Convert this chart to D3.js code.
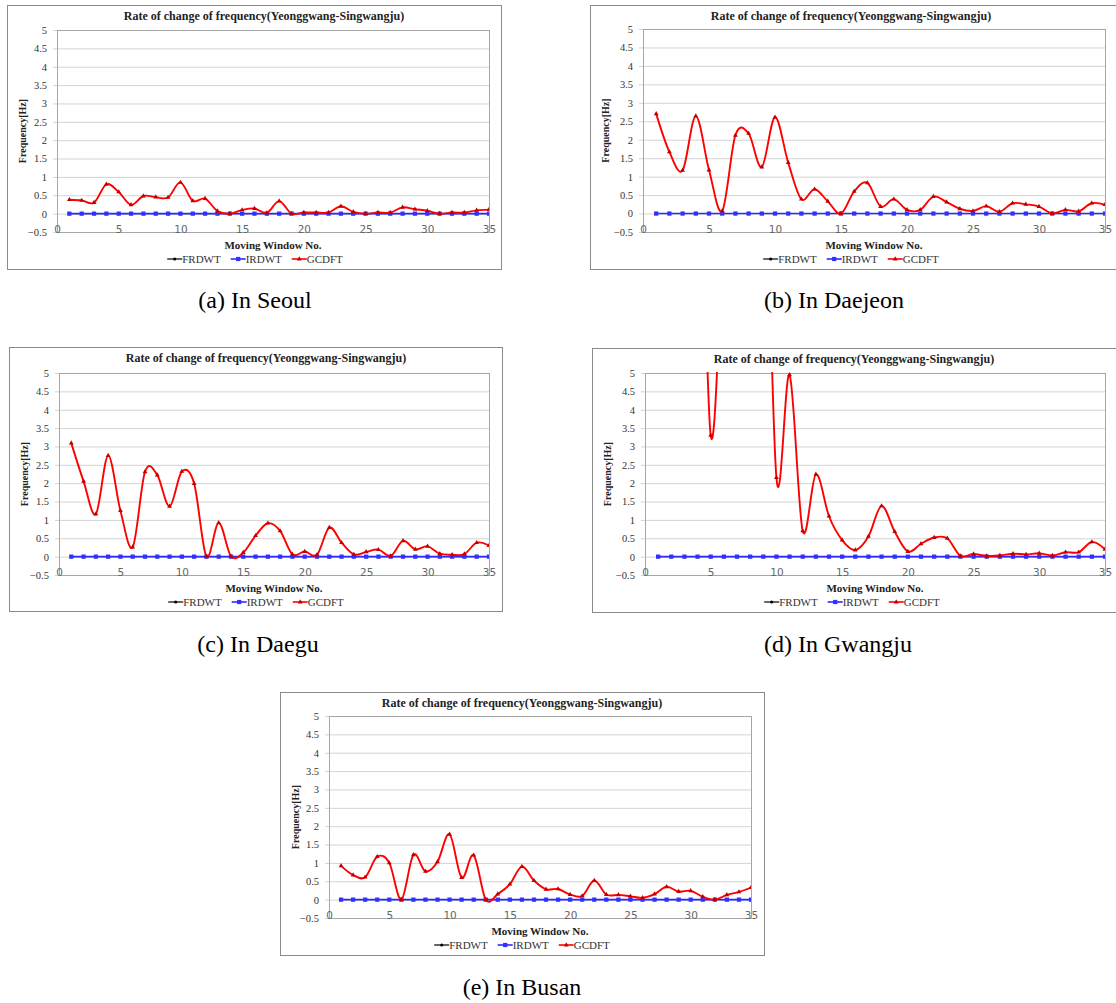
<!DOCTYPE html>
<html lang="en">
<head>
<meta charset="UTF-8">
<title>Rate of change of frequency (Yeonggwang-Singwangju)</title>
<style>
  html, body { margin: 0; background: #fff; }
  svg { display: block; }
  .frame { fill: #fff; stroke: #8a8a8a; }
  .plotbox { fill: none; stroke: #a6a6a6; }
  .grid line { stroke: #d4d4d4; }
  .ytick text { font-family: "Liberation Serif", "Times New Roman", serif; font-size: 10.5px; fill: #333; }
  .xtick text { font-family: "DejaVu Sans", Verdana, sans-serif; font-size: 10.5px; fill: #666; }
  .title, .axis-title { font-family: "Liberation Serif", "Times New Roman", serif; font-weight: bold; fill: #222; }
  .legend text { font-family: "Liberation Serif", "Times New Roman", serif; font-size: 11px; fill: #333; }
  .caption { font-family: "Liberation Serif", "Times New Roman", serif; font-size: 24px; fill: #000; }
</style>
</head>
<body>
<svg id="fig" width="1116" height="1003" viewBox="0 0 1116 1003"></svg>

<script src="https://d3js.org/d3.v7.min.js"></script>
<script>

const chartTitle = "Rate of change of frequency(Yeonggwang-Singwangju)";
const yTitle = "Frequency[Hz]";
const xTitle = "Moving Window No.";
const seriesNames = ["FRDWT", "IRDWT", "GCDFT"];
const captions = ["(a) In Seoul", "(b) In Daejeon", "(c) In Daegu", "(d) In Gwangju", "(e) In Busan"];

const yTicks = [-0.5, 0, 0.5, 1, 1.5, 2, 2.5, 3, 3.5, 4, 4.5, 5];
const xTicks = [0, 5, 10, 15, 20, 25, 30, 35];

const windowNo = [1, 2, 3, 4, 5, 6, 7, 8, 9, 10, 11, 12, 13, 14, 15, 16, 17, 18,
                  19, 20, 21, 22, 23, 24, 25, 26, 27, 28, 29, 30, 31, 32, 33, 34, 35];

// FRDWT and IRDWT are zero in every window, in every city
const frdwt = [0, 0, 0, 0, 0, 0, 0, 0, 0, 0, 0, 0, 0, 0, 0, 0, 0, 0,
               0, 0, 0, 0, 0, 0, 0, 0, 0, 0, 0, 0, 0, 0, 0, 0, 0];
const irdwt = [0, 0, 0, 0, 0, 0, 0, 0, 0, 0, 0, 0, 0, 0, 0, 0, 0, 0,
               0, 0, 0, 0, 0, 0, 0, 0, 0, 0, 0, 0, 0, 0, 0, 0, 0];

const gcdftSeoul = [0.38, 0.36, 0.30, 0.80, 0.59, 0.24, 0.48, 0.45, 0.44, 0.85, 0.35, 0.41,
                    0.07, 0.00, 0.10, 0.14, 0.02, 0.34, 0.00, 0.03, 0.03, 0.03, 0.20, 0.05,
                    0.00, 0.03, 0.03, 0.17, 0.12, 0.08, 0.00, 0.03, 0.03, 0.09, 0.11];
const gcdftDaejeon = [2.70, 1.67, 1.17, 2.64, 1.18, 0.07, 2.12, 2.17, 1.26, 2.61, 1.38, 0.39,
                      0.66, 0.33, 0.00, 0.60, 0.83, 0.19, 0.39, 0.10, 0.10, 0.46, 0.31, 0.13,
                      0.07, 0.20, 0.05, 0.28, 0.25, 0.19, 0.00, 0.10, 0.06, 0.28, 0.24];
const gcdftDaegu = [3.09, 2.05, 1.16, 2.75, 1.25, 0.26, 2.31, 2.22, 1.37, 2.32, 1.99, 0.00,
                    0.92, 0.01, 0.11, 0.57, 0.91, 0.70, 0.06, 0.14, 0.05, 0.79, 0.38, 0.06,
                    0.13, 0.19, 0.02, 0.43, 0.20, 0.28, 0.08, 0.05, 0.07, 0.38, 0.30];
// windows 1-4 and 6-9 run off the top of the axis; those values are guesses
const gcdftGwangju = [16, 18, 16, 14, 3.30, 9, 14, 15, 13, 2.15, 4.95, 0.70,
                      2.24, 1.10, 0.45, 0.18, 0.55, 1.38, 0.68, 0.14, 0.35, 0.52, 0.50, 0.02,
                      0.07, 0.02, 0.03, 0.08, 0.06, 0.09, 0.03, 0.12, 0.12, 0.40, 0.20];
const gcdftBusan = [0.92, 0.67, 0.61, 1.17, 1.00, 0.00, 1.22, 0.77, 1.03, 1.78, 0.60, 1.21,
                    0.00, 0.15, 0.42, 0.90, 0.52, 0.28, 0.29, 0.14, 0.10, 0.52, 0.14, 0.13,
                    0.09, 0.05, 0.15, 0.35, 0.22, 0.24, 0.08, 0.00, 0.13, 0.21, 0.33];

// layout of the five panels: frame box, plot box, title centre, legend centre, caption spot
const panels = [
  {frame: [7, 5, 501, 269],      plot: [57, 30, 489, 232],    tmid: 264, mid: 255, cap: [255, 308], gcdft: gcdftSeoul},
  {frame: [590, 5, 1130, 269],   plot: [643, 29, 1105, 232],  tmid: 851, mid: 851, cap: [834, 308], gcdft: gcdftDaejeon},
  {frame: [9, 347, 502, 611],    plot: [59, 373, 489, 575],   tmid: 266, mid: 256, cap: [258, 652], gcdft: gcdftDaegu},
  {frame: [592, 348, 1130, 612], plot: [645, 373, 1105, 575], tmid: 854, mid: 852, cap: [838, 652], gcdft: gcdftGwangju},
  {frame: [280, 692, 764, 955],  plot: [329, 716, 751, 918],  tmid: 522, mid: 522, cap: [522, 995], gcdft: gcdftBusan}
];

const colors = {FRDWT: "#000000", IRDWT: "#2b2bff", GCDFT: "#ff0000"};

const svg = d3.select("#fig");
const defs = svg.append("defs");

// Excel-style smoothed line
const smooth = d3.curveCardinal.tension(0);

function marker(sel, name) {
  if (name === "IRDWT") {
    sel.attr("d", d3.symbol(d3.symbolSquare, 18)).attr("fill", "#3030ff");
  } else if (name === "GCDFT") {
    sel.attr("d", d3.symbol(d3.symbolTriangle, 10)).attr("fill", "#c00000");
  } else {
    sel.attr("d", d3.symbol(d3.symbolCircle, 8)).attr("fill", "#000");
  }
}

panels.forEach(function (p, i) {
  const [fx0, fy0, fx1, fy1] = p.frame;
  const [px0, py0, px1, py1] = p.plot;
  const g = svg.append("g");

  g.append("rect").attr("class", "frame")
      .attr("x", fx0 + 0.5).attr("y", fy0 + 0.5)
      .attr("width", fx1 - fx0).attr("height", fy1 - fy0);

  const x = d3.scaleLinear().domain([0, 35]).range([px0, px1]);
  const y = d3.scaleLinear().domain([-0.5, 5]).range([py1, py0]);

  // horizontal gridlines + y labels
  const yAxis = g.append("g")
      .attr("class", "grid ytick")
      .attr("transform", "translate(" + px0 + ",0)")
      .call(d3.axisLeft(y).tickValues(yTicks).tickSize(-(px1 - px0)).tickSizeOuter(0).tickPadding(10)
          .tickFormat(d3.format("")));
  yAxis.select(".domain").remove();
  yAxis.selectAll(".tick line").attr("x1", -4);

  g.append("rect").attr("class", "plotbox")
      .attr("x", px0 + 0.5).attr("y", py0 + 0.5)
      .attr("width", px1 - px0).attr("height", py1 - py0);

  // x labels sit on the bottom edge of the plot
  const xAxis = g.append("g")
      .attr("class", "xtick")
      .attr("transform", "translate(0," + py1 + ")")
      .call(d3.axisBottom(x).tickValues(xTicks).tickSize(0).tickPadding(0));
  xAxis.select(".domain").remove();
  xAxis.selectAll("text").attr("dy", "0.1em");

  g.append("text").attr("class", "title")
      .attr("x", p.tmid).attr("y", fy0 + 15)
      .attr("text-anchor", "middle").attr("font-size", 12)
      .text(chartTitle);

  g.append("text").attr("class", "axis-title")
      .attr("transform", "translate(" + (fx0 + 19) + "," + ((py0 + py1) / 2) + ") rotate(-90)")
      .attr("text-anchor", "middle").attr("font-size", 10)
      .text(yTitle);

  g.append("text").attr("class", "axis-title")
      .attr("x", (px0 + px1) / 2).attr("y", py1 + 13)
      .attr("text-anchor", "middle").attr("dy", "0.35em").attr("font-size", 11)
      .text(xTitle);

  // series
  const clipId = "clip" + i;
  defs.append("clipPath").attr("id", clipId)
    .append("rect").attr("x", px0).attr("y", py0 - 1).attr("width", px1 - px0).attr("height", py1 - py0 + 2);

  const series = [
    {name: "FRDWT", values: frdwt, width: 1, curve: d3.curveLinear},
    {name: "IRDWT", values: irdwt, width: 1.6, curve: d3.curveLinear},
    {name: "GCDFT", values: p.gcdft, width: 1.9, curve: smooth}
  ];

  const plotG = g.append("g").attr("clip-path", "url(#" + clipId + ")");
  series.forEach(function (s) {
    const line = d3.line()
        .x(function (d, k) { return x(windowNo[k]); })
        .y(function (d) { return y(d); })
        .curve(s.curve);
    plotG.append("path")
        .datum(s.values)
        .attr("fill", "none")
        .attr("stroke", colors[s.name])
        .attr("stroke-width", s.width)
        .attr("d", line);
    plotG.append("g").selectAll("path")
        .data(s.values)
        .join("path")
        .attr("transform", function (d, k) { return "translate(" + x(windowNo[k]) + "," + y(d) + ")"; })
        .call(marker, s.name);
  });

  // legend
  const leg = g.append("g").attr("class", "legend");
  const items = leg.selectAll("g").data(seriesNames).join("g");
  items.append("line")
      .attr("x1", 0).attr("x2", 15).attr("y1", 0).attr("y2", 0)
      .attr("stroke", function (d) { return colors[d]; })
      .attr("stroke-width", function (d) { return d === "FRDWT" ? 1.2 : 1.6; });
  items.append("path")
      .attr("transform", "translate(7.5,0)")
      .each(function (d) { d3.select(this).call(marker, d); });
  items.append("text")
      .attr("x", 15).attr("dy", "0.35em")
      .text(function (d) { return d; });
  let cx = 0;
  items.each(function () {
    const it = d3.select(this);
    it.attr("transform", "translate(" + cx + ",0)");
    cx += 15 + it.select("text").node().getComputedTextLength() + 10;
  });
  const legW = cx - 10;
  leg.attr("transform", "translate(" + (p.mid - legW / 2) + "," + (py1 + 27) + ")");

  svg.append("text").attr("class", "caption")
      .attr("x", p.cap[0]).attr("y", p.cap[1])
      .attr("text-anchor", "middle")
      .text(captions[i]);
});

</script>
</body>
</html>
